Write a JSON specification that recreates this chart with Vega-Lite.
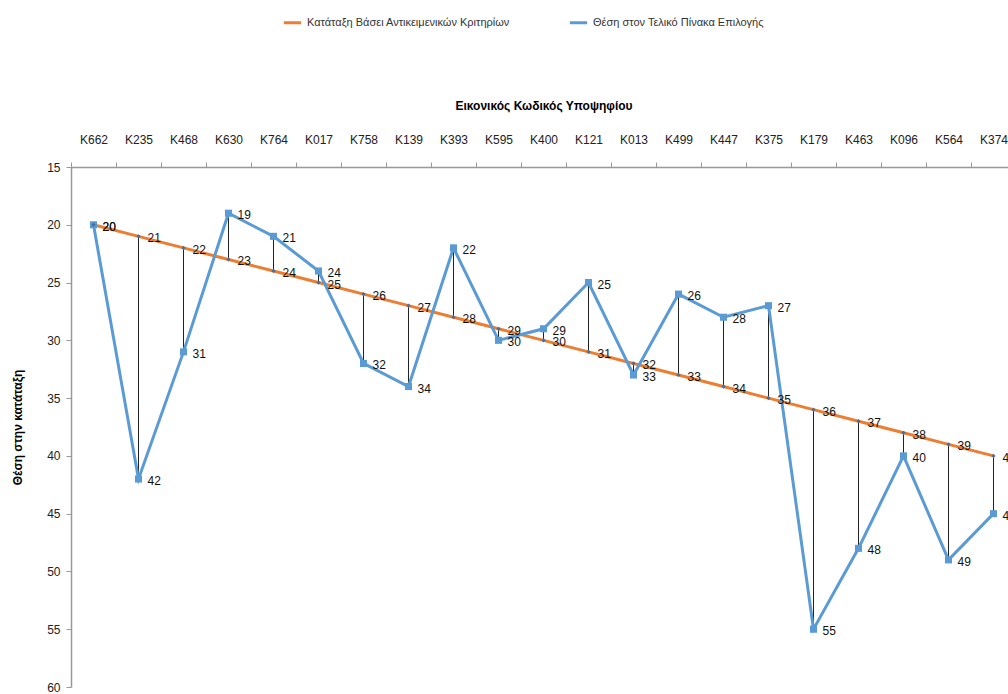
{
  "$schema": "https://vega.github.io/schema/vega-lite/v6.json",
  "width": 945,
  "height": 520,
  "padding": {"left": 11, "top": 12, "right": 0, "bottom": 5},
  "config": {
    "view": {"stroke": null},
    "font": "Liberation Sans, Arial, sans-serif"
  },
  "data": {
    "values": [
      {"code": "K662", "obj": 20, "final": 20},
      {"code": "K235", "obj": 21, "final": 42},
      {"code": "K468", "obj": 22, "final": 31},
      {"code": "K630", "obj": 23, "final": 19},
      {"code": "K764", "obj": 24, "final": 21},
      {"code": "K017", "obj": 25, "final": 24},
      {"code": "K758", "obj": 26, "final": 32},
      {"code": "K139", "obj": 27, "final": 34},
      {"code": "K393", "obj": 28, "final": 22},
      {"code": "K595", "obj": 29, "final": 30},
      {"code": "K400", "obj": 30, "final": 29},
      {"code": "K121", "obj": 31, "final": 25},
      {"code": "K013", "obj": 32, "final": 33},
      {"code": "K499", "obj": 33, "final": 26},
      {"code": "K447", "obj": 34, "final": 28},
      {"code": "K375", "obj": 35, "final": 27},
      {"code": "K179", "obj": 36, "final": 55},
      {"code": "K463", "obj": 37, "final": 48},
      {"code": "K096", "obj": 38, "final": 40},
      {"code": "K564", "obj": 39, "final": 49},
      {"code": "K374", "obj": 40, "final": 45}
    ]
  },
  "encoding": {
    "x": {
      "field": "code",
      "type": "nominal",
      "sort": null,
      "scale": {"paddingInner": 0, "paddingOuter": 0},
      "axis": {
        "orient": "top",
        "title": "Εικονικός Κωδικός Υποψηφίου",
        "titleFontSize": 12,
        "titleFontWeight": "bold",
        "titleColor": "#000000",
        "titlePadding": 21,
        "labelAngle": 0,
        "labelFontSize": 12,
        "labelColor": "#222222",
        "labelPadding": 16,
        "tickBand": "extent",
        "tickSize": 5,
        "tickColor": "#999999",
        "domainColor": "#999999",
        "domainWidth": 1.5,
        "grid": false
      }
    }
  },
  "layer": [
    {
      "mark": {"type": "rule", "color": "#222222", "strokeWidth": 1},
      "encoding": {
        "y": {
          "field": "obj",
          "type": "quantitative",
          "scale": {"domain": [15, 60], "reverse": true, "nice": false, "zero": false},
          "axis": {
            "title": "Θέση στην κατάταξη",
            "titleFontSize": 12,
            "titleFontWeight": "bold",
            "titleColor": "#000000",
            "titlePadding": 22,
            "values": [15, 20, 25, 30, 35, 40, 45, 50, 55, 60],
            "labelFontSize": 12,
            "labelColor": "#222222",
            "labelPadding": 6,
            "tickSize": 5,
            "tickColor": "#999999",
            "domainColor": "#999999",
            "domainWidth": 1.5,
            "grid": false
          }
        },
        "y2": {"field": "final"}
      }
    },
    {
      "transform": [{"fold": ["obj", "final"], "as": ["series", "value"]}],
      "mark": {"type": "line", "strokeWidth": 3},
      "encoding": {
        "y": {"field": "value", "type": "quantitative"},
        "color": {
          "field": "series",
          "type": "nominal",
          "scale": {"domain": ["obj", "final"], "range": ["#ED7D31", "#5B9BD5"]},
          "legend": {
            "title": null,
            "orient": "none",
            "direction": "horizontal",
            "legendX": 211,
            "legendY": -155,
            "labelExpr": "datum.value == 'obj' ? 'Κατάταξη  Βάσει Αντικειμενικών Κριτηρίων' : 'Θέση στον Τελικό Πίνακα Επιλογής'",
            "labelLimit": 0,
            "symbolType": "stroke",
            "symbolStrokeWidth": 3,
            "symbolSize": 300,
            "labelFontSize": 11,
            "labelColor": "#333333",
            "columnPadding": 50
          }
        },
        "order": {"field": "series", "sort": "descending"}
      }
    },
    {
      "mark": {"type": "point", "shape": "square", "filled": true, "size": 50, "color": "#5B9BD5", "opacity": 1},
      "encoding": {"y": {"field": "final", "type": "quantitative"}}
    },
    {
      "mark": {"type": "point", "shape": "diamond", "filled": true, "size": 18, "color": "#4F6E94", "opacity": 1},
      "encoding": {"y": {"field": "obj", "type": "quantitative"}}
    },
    {
      "mark": {"type": "text", "align": "left", "baseline": "middle", "dx": 9, "dy": 2, "fontSize": 12, "color": "#111111"},
      "encoding": {"y": {"field": "obj", "type": "quantitative"}, "text": {"field": "obj"}}
    },
    {
      "mark": {"type": "text", "align": "left", "baseline": "middle", "dx": 9, "dy": 2, "fontSize": 12, "color": "#111111"},
      "encoding": {"y": {"field": "final", "type": "quantitative"}, "text": {"field": "final"}}
    }
  ]
}
